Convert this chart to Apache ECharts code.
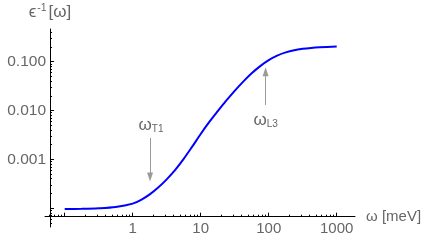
<!DOCTYPE html>
<html><head><meta charset="utf-8">
<script src="https://cdn.jsdelivr.net/npm/echarts@6/dist/echarts.min.js"></script>
<style>html,body{margin:0;padding:0;background:#fff}#c{width:436px;height:245px}</style>
</head><body><div id="c"></div>
<script>
// data
const omega  = [0.1, 0.178, 0.316, 0.562, 1, 1.33, 1.78, 2.37, 3.16, 4.22, 5.62, 7.5, 10, 13.3, 17.8, 23.7, 31.6, 42.2, 56.2, 75, 100, 133, 178, 237, 316, 421, 562, 1000];
const epsInv = [9.58e-5, 9.67e-5, 9.91e-5, 1.053e-4, 1.237e-4, 1.479e-4, 1.909e-4, 2.631e-4, 3.873e-4, 6.063e-4, 1.019e-3, 1.82e-3, 3.3e-3, 5.757e-3, 9.676e-3, 0.01588, 0.02533, 0.0391, 0.05783, 0.08125, 0.1078, 0.1334, 0.1551, 0.172, 0.1837, 0.1917, 0.1972, 0.2048];

const xTickLabels = [1, 10, 100, 1000];
const xMajorTicks = [0.1, 1, 10, 100, 1000];
const xMinorTicks = [0.06, 0.07, 0.08, 0.09, 0.2, 0.3, 0.4, 0.5, 0.6, 0.7, 0.8, 0.9, 2, 3, 4, 5, 6, 7, 8, 9, 20, 30, 40, 50, 60, 70, 80, 90, 200, 300, 400, 500, 600, 700, 800, 900];
const yTickLabels = [0.001, 0.01, 0.1];
const yMajorTicks = [0.0001, 0.001, 0.01, 0.1];
const yMinorTicks = [5e-5, 6e-5, 7e-5, 8e-5, 9e-5, 2e-4, 3e-4, 4e-4, 5e-4, 6e-4, 7e-4, 8e-4, 9e-4, 0.002, 0.003, 0.004, 0.005, 0.006, 0.007, 0.008, 0.009, 0.02, 0.03, 0.04, 0.05, 0.06, 0.07, 0.08, 0.09, 0.2, 0.3, 0.4];

// annotations: [label, subscript, text x, text y, arrow x, arrow start y, arrow end y]
const annT1 = ['ω', 'T1', 1.86, 0.00505, 1.8, 0.00273, 0.000434];
const annL3 = ['ω', 'L3', 90, 0.0064, 90, 0.013, 0.0624];

const xRange = [0.0513, 1858];
const yRange = [4.1e-5, 0.4677];

const FONT = '"Liberation Sans", Arial, sans-serif';
const TXT = '#666';
const ARROW = '#9a9a9a';

const chart = echarts.init(document.getElementById('c'), null, {renderer: 'canvas'});

function xAxisDef(major) {
  return {
    type: 'log', min: xRange[0], max: xRange[1], position: 'bottom', offset: -10.3,
    axisLine: {show: major, lineStyle: {color: '#000', width: 1}},
    axisTick: {show: true, inside: true, length: major ? 4 : 2, customValues: major ? xMajorTicks : xMinorTicks, lineStyle: {color: '#000', width: 1}},
    axisLabel: major ? {show: true, customValues: xTickLabels, color: TXT, fontSize: 15, fontFamily: FONT, margin: 5, formatter: v => String(Math.round(v))} : {show: false},
    splitLine: {show: false},
    name: major ? 'ω [meV]' : '', nameLocation: 'end', nameGap: 11,
    nameTextStyle: {color: TXT, fontSize: 15, fontFamily: FONT}
  };
}
function yAxisDef(major) {
  return {
    type: 'log', min: yRange[0], max: yRange[1], position: 'left', offset: -5,
    axisLine: {show: major, lineStyle: {color: '#000', width: 1}},
    axisTick: {show: true, inside: true, length: major ? 4 : 2, customValues: major ? yMajorTicks : yMinorTicks, lineStyle: {color: '#000', width: 1}},
    axisLabel: major ? {show: true, customValues: yTickLabels, color: TXT, fontSize: 15.5, fontFamily: FONT, margin: 4, formatter: v => v.toFixed(3)} : {show: false},
    splitLine: {show: false},
    name: major ? '{e|ϵ}{s|-1}{e|[ω]}' : '', nameLocation: 'end', nameGap: 7,
    nameTextStyle: {color: TXT, fontFamily: FONT, rich: {
      e: {fontSize: 17, color: TXT, fontFamily: FONT},
      s: {fontSize: 10.5, color: TXT, fontFamily: FONT, verticalAlign: 'top', padding: [0, 2, 8, 1]}
    }}
  };
}

function annMarks(a) {
  return {
    point: {coord: [a[2], a[3]], value: a[0] + '_' + a[1],
      label: {show: true, position: 'inside', formatter: '{w|' + a[0] + '}{s|' + a[1] + '}',
        rich: {w: {fontSize: 17, color: TXT, fontFamily: FONT}, s: {fontSize: 10, color: TXT, fontFamily: FONT, padding: [8, 0, 0, 0]}}}},
    line: [{coord: [a[4], a[5]]}, {coord: [a[4], a[6]]}]
  };
}
const m1 = annMarks(annT1), m2 = annMarks(annL3);

chart.setOption({
  animation: false,
  backgroundColor: '#fff',
  grid: {left: 45, right: 81, top: 29, bottom: 18, containLabel: false},
  xAxis: [xAxisDef(true), xAxisDef(false)],
  yAxis: [yAxisDef(true), yAxisDef(false)],
  series: [{
    type: 'line',
    data: omega.map((w, i) => [w, epsInv[i]]),
    showSymbol: false, symbol: 'none',
    smooth: 0.3,
    lineStyle: {color: '#0000ff', width: 2},
    markPoint: {
      symbol: 'rect', symbolSize: 1, itemStyle: {color: 'rgba(0,0,0,0)'}, silent: true,
      data: [m1.point, m2.point]
    },
    markLine: {
      silent: true, symbol: ['none', 'triangle'], symbolSize: [6, 9],
      lineStyle: {color: ARROW, width: 1, type: 'solid'},
      label: {show: false},
      data: [m1.line, m2.line]
    }
  }]
});
</script>
</body></html>
